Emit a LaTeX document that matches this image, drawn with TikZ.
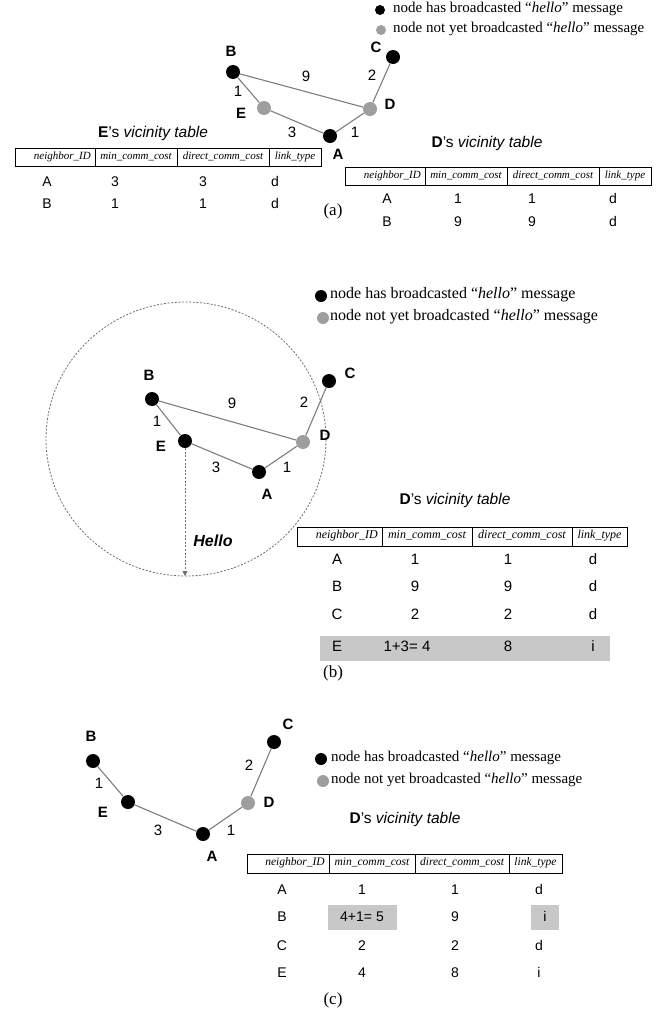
\documentclass[tikz,border=0pt]{standalone}
\usepackage{fontspec}
\setmainfont{Liberation Serif}
\setsansfont{Liberation Sans}
\usetikzlibrary{arrows.meta}
\definecolor{nodegray}{RGB}{158,158,158}
\definecolor{edgegray}{RGB}{125,125,125}
\definecolor{hlgray}{RGB}{200,200,200}
\definecolor{circgray}{RGB}{110,110,110}
\newcommand\vtablehead[9]{%
  \draw[line width=0.8pt] (#2,#7) rectangle (#6,#8);
  \draw[line width=0.8pt] (#3,#7) -- (#3,#8) (#4,#7) -- (#4,#8) (#5,#7) -- (#5,#8);
  \node[hdr,font=\itshape\fontsize{#9}{#9}\selectfont,anchor=east] (#1h1) at ({#3-4},{(#7+#8)/2}) {neighbor\_ID};
  \node[hdr,font=\itshape\fontsize{#9}{#9}\selectfont] (#1h2) at ({(#3+#4)/2},{(#7+#8)/2}) {min\_comm\_cost};
  \node[hdr,font=\itshape\fontsize{#9}{#9}\selectfont] (#1h3) at ({(#4+#5)/2},{(#7+#8)/2}) {direct\_comm\_cost};
  \node[hdr,font=\itshape\fontsize{#9}{#9}\selectfont] (#1h4) at ({(#5+#6)/2},{(#7+#8)/2}) {link\_type};
}
\begin{document}
\begin{tikzpicture}[x=1pt,y=-1pt,
  blk/.style={circle,fill=black,inner sep=0,minimum size=14pt},
  gry/.style={circle,fill=nodegray,inner sep=0,minimum size=14pt},
  lbl/.style={font=\sffamily\bfseries\fontsize{15}{15}\selectfont,inner sep=0,text height=0.72em,text depth=0pt},
  wt/.style={font=\sffamily\fontsize{15}{15}\selectfont,inner sep=0,text height=0.72em,text depth=0pt},
  link/.style={draw=edgegray,line width=1.1pt},
  leg/.style={font=\fontsize{15}{15}\selectfont,anchor=west,inner sep=0,text height=0.7em,text depth=0.2em},
  hdr/.style={inner sep=0,text height=0.7em,text depth=0.25em},
  cell/.style={font=\sffamily\fontsize{14}{14}\selectfont,inner sep=0,text height=0.72em,text depth=0pt},
  cellb/.style={font=\sffamily\fontsize{15}{15}\selectfont,inner sep=0,text height=0.72em,text depth=0pt},
  ttl/.style={font=\sffamily\fontsize{15.5}{15.5}\selectfont,inner sep=0,text height=0.72em,text depth=0.2em},
  captxt/.style={font=\fontsize{17}{17}\selectfont,inner sep=0,text height=0.72em,text depth=0.25em},
]
\useasboundingbox (0,0) rectangle (667,1015);

%%%%%%%%%%%%%%%% (a)
\node[blk,minimum size=10pt] (la1) at (380,10) {};
\node[leg] (lt1) at (393,10) {node has broadcasted “\textit{hello}” message};
\node[gry,minimum size=10pt] (la2) at (381,30) {};
\node[leg] (lt2) at (393,30) {node not yet broadcasted “\textit{hello}” message};

\node[blk] (aB) at (233,72) {};
\node[blk] (aC) at (393,57) {};
\node[gry] (aE) at (264,108) {};
\node[gry] (aD) at (370,109) {};
\node[blk] (aA) at (330,136) {};
\draw[link] (aB) -- (aD);
\draw[link] (aB) -- (aE);
\draw[link] (aE) -- (aA);
\draw[link] (aA) -- (aD);
\draw[link] (aD) -- (aC);
\node[lbl] (aBl) at (231,53) {B};
\node[lbl] (aCl) at (376,49) {C};
\node[lbl] (aEl) at (241,115) {E};
\node[lbl] (aDl) at (390,106) {D};
\node[lbl] (aAl) at (338,156) {A};
\node[wt] (aw9) at (306,78) {9};
\node[wt] (aw2) at (372,77) {2};
\node[wt] (aw1a) at (238,93) {1};
\node[wt] (aw3) at (292,134) {3};
\node[wt] (aw1b) at (355,134) {1};

\node[ttl] (aEt) at (153,135) {\textbf{E}'s \textit{vicinity table}};
\vtablehead{aET}{15}{95}{177}{269}{321}{148}{166}{11}
\node[cell] (aE11) at (47,183) {A};
\node[cell] (aE12) at (115,183) {3};
\node[cell] (aE13) at (203,183) {3};
\node[cell] (aE14) at (275,183) {d};
\node[cell] (aE21) at (47,205) {B};
\node[cell] (aE22) at (115,205) {1};
\node[cell] (aE23) at (203,205) {1};
\node[cell] (aE24) at (275,205) {d};

\node[ttl] (aDt) at (487,145) {\textbf{D}'s \textit{vicinity table}};
\vtablehead{aDT}{345}{425}{507}{599}{651}{167}{185}{11}
\node[cell] (aD11) at (387,200) {A};
\node[cell] (aD12) at (458,200) {1};
\node[cell] (aD13) at (532,200) {1};
\node[cell] (aD14) at (613,200) {d};
\node[cell] (aD21) at (387,223) {B};
\node[cell] (aD22) at (458,223) {9};
\node[cell] (aD23) at (532,223) {9};
\node[cell] (aD24) at (613,223) {d};

\node[captxt] (capa) at (333,213) {(a)};

%%%%%%%%%%%%%%%% (b)
\node[blk,minimum size=12pt] (lb1) at (321,296) {};
\node[leg,font=\fontsize{16}{16}\selectfont] (lbt1) at (330,296) {node has broadcasted “\textit{hello}” message};
\node[gry,minimum size=12pt] (lb2) at (323,318) {};
\node[leg,font=\fontsize{16}{16}\selectfont] (lbt2) at (330,318) {node not yet broadcasted “\textit{hello}” message};

\draw[circgray,line width=0.8pt,dash pattern=on 2pt off 1.6pt] (186,439) ellipse [x radius=140pt, y radius=137pt];
\coordinate (hellotip) at (185,576);

\node[blk] (bB) at (152,399) {};
\node[blk] (bC) at (329,381) {};
\node[blk] (bE) at (185,441) {};
\node[gry] (bD) at (303,442) {};
\node[blk] (bA) at (259,472) {};
\draw[link] (bB) -- (bD);
\draw[link] (bB) -- (bE);
\draw[link] (bE) -- (bA);
\draw[link] (bA) -- (bD);
\draw[link] (bD) -- (bC);
\draw[circgray,line width=0.8pt,dash pattern=on 2pt off 1.6pt,-{Triangle[length=5pt,width=5pt]}] (bE) -- (hellotip);
\node[lbl] (bBl) at (149,377) {B};
\node[lbl] (bCl) at (350,375) {C};
\node[lbl] (bEl) at (161,448) {E};
\node[lbl] (bDl) at (325,437) {D};
\node[lbl] (bAl) at (267,496) {A};
\node[wt] (bw9) at (232,405) {9};
\node[wt] (bw2) at (304,404) {2};
\node[wt] (bw1a) at (157,423) {1};
\node[wt] (bw3) at (216,469) {3};
\node[wt] (bw1b) at (287,469) {1};
\node[lbl,font=\sffamily\bfseries\itshape\fontsize{16}{16}\selectfont] (hello) at (213,543) {Hello};

\node[ttl] (bDt) at (455,502) {\textbf{D}'s \textit{vicinity table}};
\vtablehead{bDT}{297}{382}{472}{572}{627}{527}{546}{12}
\fill[hlgray] (320,636) rectangle (610,661);
\node[cellb] (bD11) at (337,561) {A};
\node[cellb] (bD12) at (415,561) {1};
\node[cellb] (bD13) at (508,561) {1};
\node[cellb] (bD14) at (593,561) {d};
\node[cellb] (bD21) at (337,588) {B};
\node[cellb] (bD22) at (415,588) {9};
\node[cellb] (bD23) at (508,588) {9};
\node[cellb] (bD24) at (593,588) {d};
\node[cellb] (bD31) at (337,616) {C};
\node[cellb] (bD32) at (415,616) {2};
\node[cellb] (bD33) at (508,616) {2};
\node[cellb] (bD34) at (593,616) {d};
\node[cellb] (bD41) at (337,648) {E};
\node[cellb] (bD42) at (407,648) {1+3= 4};
\node[cellb] (bD43) at (508,648) {8};
\node[cellb] (bD44) at (593,648) {i};

\node[captxt] (capb) at (333,675) {(b)};

%%%%%%%%%%%%%%%% (c)
\node[blk] (cB) at (93,761) {};
\node[blk] (cC) at (274,742) {};
\node[blk] (cE) at (128,802) {};
\node[gry] (cD) at (248,803) {};
\node[blk] (cA) at (203,834) {};
\draw[link] (cB) -- (cE);
\draw[link] (cE) -- (cA);
\draw[link] (cA) -- (cD);
\draw[link] (cD) -- (cC);
\node[lbl] (cBl) at (91,738) {B};
\node[lbl] (cCl) at (288,726) {C};
\node[lbl] (cEl) at (103,814) {E};
\node[lbl] (cDl) at (269,804) {D};
\node[lbl] (cAl) at (212,858) {A};
\node[wt] (cw2) at (249,767) {2};
\node[wt] (cw1a) at (99,785) {1};
\node[wt] (cw3) at (158,832) {3};
\node[wt] (cw1b) at (231,832) {1};

\node[blk,minimum size=12pt] (lc1) at (321,759) {};
\node[leg] (lct1) at (331,759) {node has broadcasted “\textit{hello}” message};
\node[gry,minimum size=12pt] (lc2) at (323,781) {};
\node[leg] (lct2) at (331,781) {node not yet broadcasted “\textit{hello}” message};

\node[ttl] (cDt) at (405,821) {\textbf{D}'s \textit{vicinity table}};
\vtablehead{cDT}{247}{329}{415}{509}{562}{854}{873}{11.5}
\fill[hlgray] (328,905) rectangle (397,930);
\fill[hlgray] (531,905) rectangle (559,930);
\node[cell] (cD11) at (282,891) {A};
\node[cell] (cD12) at (362,891) {1};
\node[cell] (cD13) at (455,891) {1};
\node[cell] (cD14) at (539,891) {d};
\node[cell] (cD21) at (282,918) {B};
\node[cell] (cD22) at (362,918) {4+1= 5};
\node[cell] (cD23) at (455,918) {9};
\node[cell] (cD24) at (545,918) {i};
\node[cell] (cD31) at (282,947) {C};
\node[cell] (cD32) at (362,947) {2};
\node[cell] (cD33) at (455,947) {2};
\node[cell] (cD34) at (539,947) {d};
\node[cell] (cD41) at (282,974) {E};
\node[cell] (cD42) at (362,974) {4};
\node[cell] (cD43) at (455,974) {8};
\node[cell] (cD44) at (539,974) {i};

\node[captxt] (capc) at (333,1002) {(c)};
\end{tikzpicture}
\end{document}
